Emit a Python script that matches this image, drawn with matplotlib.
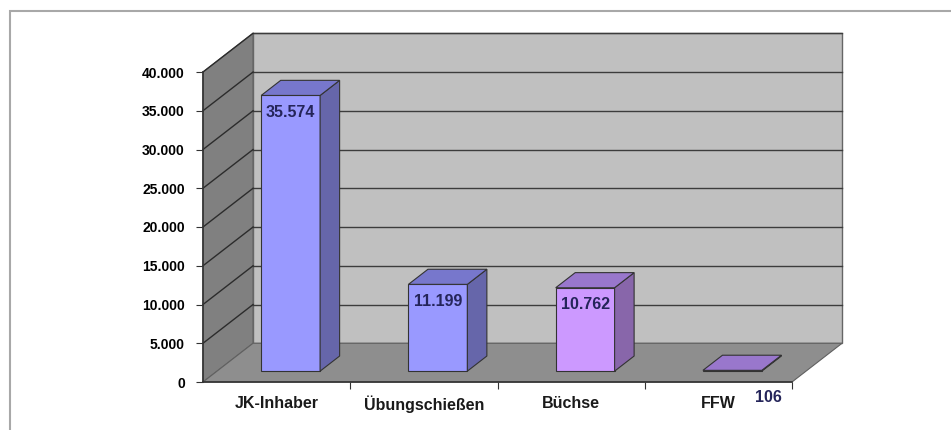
import matplotlib
matplotlib.use('Agg')
import matplotlib.pyplot as plt
from matplotlib.patches import Polygon, Rectangle

# chart data
categories = ['JK-Inhaber', 'Übungschießen', 'Büchse', 'FFW']
values = [35574, 11199, 10762, 106]
labels = ['35.574', '11.199', '10.762', '106']
ticks = list(range(0, 40001, 5000))
tick_labels = ['0', '5.000', '10.000', '15.000', '20.000', '25.000', '30.000', '35.000', '40.000']

front_cols = ['#9999ff', '#9999ff', '#cc99ff', '#cc99ff']
top_cols = ['#7777cc', '#7777cc', '#9977cc', '#9977cc']
side_cols = ['#6666aa', '#6666aa', '#8866aa', '#8866aa']

# 3d look: depth of the plot box in data units, bar front/back depth fraction
DX, DY = 0.34, 5000
F0, F1 = 0.28, 0.67
W = 0.40
YMAX = 40000
FONT = 'Liberation Sans'

fig = plt.figure(figsize=(9.51, 4.30), dpi=100)
fig.patches.append(Rectangle((10 / 951, -0.01), 1.0, 1 - 11 / 430 + 0.01, transform=fig.transFigure,
                             fill=False, edgecolor='#a8a8a8', linewidth=1.5))
ax = fig.add_axes([203 / 951, 48 / 430, 589 / 951, 310 / 430])
ax.set_xlim(-0.5, 3.5)
ax.set_ylim(0, YMAX)
ax.patch.set_visible(False)

x0, x1 = -0.5, 3.5
# left wall, back wall, floor
ax.add_patch(Polygon([(x0, 0), (x0 + DX, DY), (x0 + DX, YMAX + DY), (x0, YMAX)],
                     closed=True, facecolor='#808080', edgecolor='#606060', lw=0.8, clip_on=False, zorder=0))
ax.add_patch(Polygon([(x0 + DX, DY), (x1 + DX, DY), (x1 + DX, YMAX + DY), (x0 + DX, YMAX + DY)],
                     closed=True, facecolor='#c0c0c0', edgecolor='#666666', lw=1.0, clip_on=False, zorder=0))
ax.add_patch(Polygon([(x0, 0), (x1, 0), (x1 + DX, DY), (x0 + DX, DY)],
                     closed=True, facecolor='#8e8e8e', edgecolor='#606060', lw=0.8, clip_on=False, zorder=0))

# gridlines on back and left walls
for t in ticks[1:]:
    ax.plot([x0 + DX, x1 + DX], [t + DY, t + DY], color='#3c3c3c', lw=1.0, clip_on=False, zorder=1)
    ax.plot([x0, x0 + DX], [t, t + DY], color='#2c2c2c', lw=1.0, clip_on=False, zorder=1)

# bars: front faces through ax.bar, then top and side faces
xs = [i + F0 * DX for i in range(len(values))]
ax.bar(xs, values, width=W, bottom=F0 * DY, color=front_cols, edgecolor='#333333',
       linewidth=0.8, zorder=3, clip_on=False)
dd = F1 - F0
for i, v in enumerate(values):
    xl = xs[i] - W / 2
    xr = xs[i] + W / 2
    yb = F0 * DY
    yt = v + F0 * DY
    ax.add_patch(Polygon([(xr, yb), (xr + dd * DX, yb + dd * DY), (xr + dd * DX, yt + dd * DY), (xr, yt)],
                         closed=True, facecolor=side_cols[i], edgecolor='#333333', lw=0.8,
                         clip_on=False, zorder=3))
    ax.add_patch(Polygon([(xl, yt), (xr, yt), (xr + dd * DX, yt + dd * DY), (xl + dd * DX, yt + dd * DY)],
                         closed=True, facecolor=top_cols[i], edgecolor='#333333', lw=0.8,
                         clip_on=False, zorder=4))

# data labels
for i, v in enumerate(values):
    if v > 2000:
        off = (0, -17)
    else:
        off = (36, -27)
    ax.annotate(labels[i], (xs[i], v + F0 * DY), xytext=off, textcoords='offset pixels',
                ha='center', va='center', fontsize=11.5, fontweight='bold', color='#25255a',
                fontfamily=FONT, zorder=5)

# axes
for s in ['top', 'right']:
    ax.spines[s].set_visible(False)
for s in ['left', 'bottom']:
    ax.spines[s].set_color('#333333')
    ax.spines[s].set_linewidth(1.2)
    ax.spines[s].set_zorder(2)

ax.set_yticks(ticks)
ax.set_yticklabels(tick_labels)
ax.tick_params(axis='y', direction='out', length=5, color='#333333', labelsize=10, pad=8,
               labelcolor='#000000')
ax.set_xticks([0.5, 1.5, 2.5, 3.5])
ax.set_xticklabels([])
ax.tick_params(axis='x', which='major', direction='out', length=5, color='#333333')
ax.set_xticks(range(len(categories)), minor=True)
ax.set_xticklabels(categories, minor=True)
ax.tick_params(axis='x', which='minor', length=0, labelsize=11.5, pad=10, labelcolor='#1a1a1a')
for lab in ax.get_xticklabels(minor=True) + ax.get_yticklabels():
    lab.set_fontfamily(FONT)
    lab.set_fontweight('bold')

fig.savefig('out.png', dpi=100)
